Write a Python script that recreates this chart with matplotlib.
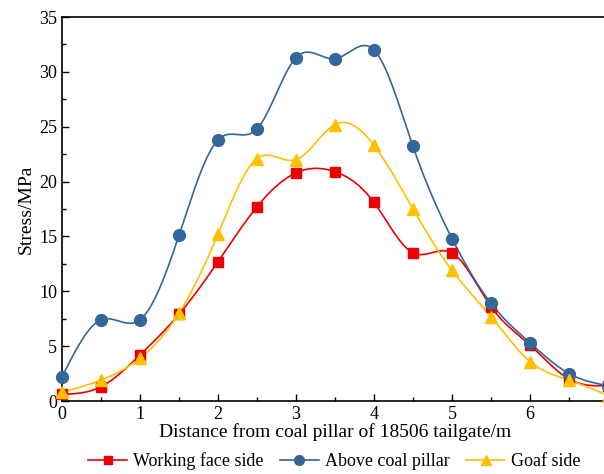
import numpy as np
import matplotlib
matplotlib.use("Agg")
import matplotlib.pyplot as plt

# data
distance = [0, 0.5, 1, 1.5, 2, 2.5, 3, 3.5, 4, 4.5, 5, 5.5, 6, 6.5, 7]
working_face = [0.6, 1.3, 4.2, 7.9, 12.7, 17.7, 20.8, 20.9, 18.1, 13.5, 13.5, 8.6, 5.1, 2.0, 1.4]
above_pillar = [2.2, 7.4, 7.4, 15.1, 23.8, 24.8, 31.3, 31.2, 32.0, 23.2, 14.8, 8.9, 5.3, 2.5, 1.4]
goaf_side = [0.8, 1.9, 3.9, 8.0, 15.2, 22.1, 22.0, 25.2, 23.3, 17.5, 11.9, 7.7, 3.6, 1.9, 0.5]

labels = ["Working face side", "Above coal pillar", "Goaf side"]
colors = ["#ee0000", "#336699", "#ffc000"]
markers = ["s", "o", "^"]


def spline(x, y, n=400):
    # natural cubic spline for the connecting curve
    x = np.asarray(x, float)
    y = np.asarray(y, float)
    h = np.diff(x)
    m = len(x)
    A = np.zeros((m, m))
    b = np.zeros(m)
    A[0, 0] = A[-1, -1] = 1
    for i in range(1, m - 1):
        A[i, i - 1] = h[i - 1]
        A[i, i] = 2 * (h[i - 1] + h[i])
        A[i, i + 1] = h[i]
        b[i] = 6 * ((y[i + 1] - y[i]) / h[i] - (y[i] - y[i - 1]) / h[i - 1])
    M = np.linalg.solve(A, b)
    xs = np.linspace(x[0], x[-1], n)
    idx = np.clip(np.searchsorted(x, xs) - 1, 0, m - 2)
    x0, x1 = x[idx], x[idx + 1]
    hh = x1 - x0
    t0, t1 = x1 - xs, xs - x0
    ys = (M[idx] * t0 ** 3 + M[idx + 1] * t1 ** 3) / (6 * hh) \
        + (y[idx] / hh - M[idx] * hh / 6) * t0 \
        + (y[idx + 1] / hh - M[idx + 1] * hh / 6) * t1
    return xs, ys


plt.rcParams['font.family'] = ['Liberation Serif', 'DejaVu Serif']

fig = plt.figure(figsize=(6.04, 4.74), dpi=100)
ax = fig.add_axes([62 / 604, 1 - 401 / 474, 546 / 604, 384 / 474])

handles = []
for ys, lab, c, mk in zip([working_face, above_pillar, goaf_side], labels, colors, markers):
    sx, sy = spline(distance, ys)
    ax.plot(sx, sy, color=c, lw=1.2, zorder=2)
    ms = 8.5 if mk != "s" else 7.5
    ax.plot(distance, ys, ls="none", marker=mk, color=c, ms=ms, zorder=3, clip_on=False)
    h, = ax.plot([], [], color=c, lw=1.2, marker=mk, ms=ms - 1.5, label=lab)
    handles.append(h)

ax.set_xlim(0, 7)
ax.set_ylim(0, 35)
ax.set_xticks(range(0, 8))
ax.set_xticks(np.arange(0, 7.01, 0.5), minor=True)
ax.set_yticks(range(0, 36, 5))
ax.set_yticks(np.arange(0, 35.1, 2.5), minor=True)
ax.tick_params(which='both', direction='in', labelsize=13, width=1, top=False, right=False)
ax.tick_params(which='major', length=5)
ax.tick_params(which='minor', length=3)
for s in ax.spines.values():
    s.set_linewidth(1.2)

ax.set_xlabel("Distance from coal pillar of 18506 tailgate/m", fontsize=14, labelpad=0)
ax.set_ylabel("Stress/MPa", fontsize=14, labelpad=3)

fig.legend(handles=handles, loc='center', bbox_to_anchor=(334 / 604, 1 - 461 / 474), ncol=3,
           frameon=False, fontsize=13, handlelength=2.2, columnspacing=0.9, handletextpad=0.3,
           borderaxespad=0)

fig.savefig("out.png", dpi=100)
